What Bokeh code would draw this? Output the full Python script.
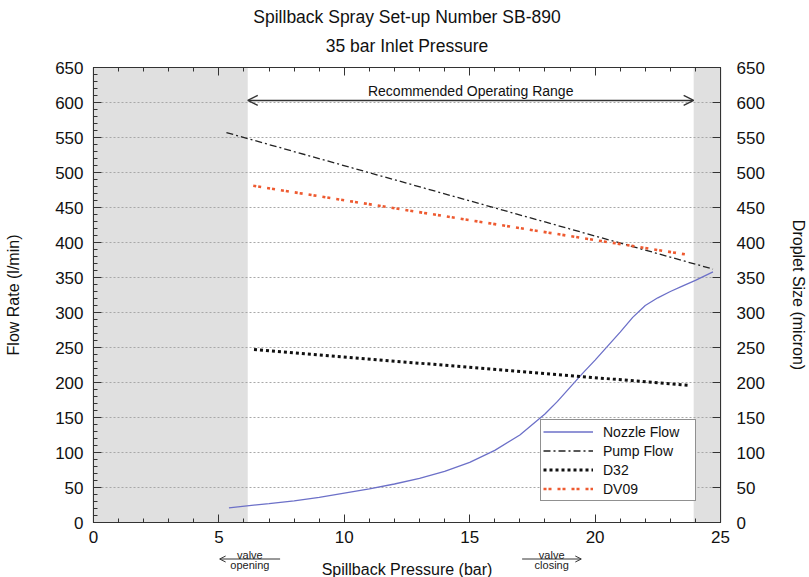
from bokeh.plotting import figure
from bokeh.layouts import column
from bokeh.models import (Range1d, LinearAxis, SingleIntervalTicker, BoxAnnotation,
                          Arrow, OpenHead, Label, Title)
from bokeh.embed import file_html
from bokeh.resources import INLINE

FONT = "Liberation Sans"

# ---- data ----
nozzle_x = [5.4, 7, 8, 9, 10, 11, 12, 13, 14, 15, 16, 17, 18, 18.5, 19, 19.5, 20,
            20.5, 21, 21.5, 22, 22.5, 23, 23.5, 24, 24.7]
nozzle_y = [21, 27, 31, 36, 42, 48, 55, 63, 73, 86, 103, 125, 155, 173, 193, 213, 232,
            252, 272, 293, 310, 321, 330, 338, 346, 358]
pump_x = [5.3, 24.7]
pump_y = [557, 362]
d32_x = [6.4, 23.7]
d32_y = [247, 196]
dv09_x = [6.37, 23.6]
dv09_y = [481, 383]
operating_range = [6.15, 23.93]
valve_opening_x = [7.44, 5.03]
valve_closing_x = [17.09, 19.45]

p = figure(width=809, height=550, x_range=Range1d(0, 25), y_range=Range1d(0, 650),
           output_backend="svg", toolbar_location=None, title=None,
           min_border_left=93, min_border_right=87, min_border_top=67, min_border_bottom=28)
p.background_fill_color = "white"
p.border_fill_color = "white"
p.outline_line_color = "#333333"
p.outline_line_width = 1.2

p.extra_y_ranges = {"drop": Range1d(0, 650)}

def style_axis(ax, minor=True):
    ax.axis_line_color = "#333333"
    ax.major_tick_line_color = "#333333"
    ax.minor_tick_line_color = "#333333" if minor else None
    ax.major_tick_in = 8
    ax.major_tick_out = 0
    ax.minor_tick_in = 4
    ax.minor_tick_out = 0
    ax.major_label_text_font = FONT
    ax.major_label_text_font_size = "17px"
    ax.major_label_text_color = "#111111"
    ax.axis_label_text_font = FONT
    ax.axis_label_text_font_size = "16px"
    ax.axis_label_text_font_style = "normal"
    ax.axis_label_text_color = "#111111"

xax = p.xaxis[0]
xax.ticker = SingleIntervalTicker(interval=5, num_minor_ticks=5)
style_axis(xax)
xax.major_label_standoff = 8

yax = p.yaxis[0]
yax.ticker = SingleIntervalTicker(interval=50, num_minor_ticks=5)
style_axis(yax)
yax.axis_label = "Flow Rate (l/min)"
yax.major_label_standoff = 10
yax.axis_label_standoff = 30

rax = LinearAxis(y_range_name="drop", axis_label="Droplet Size (micron)",
                 ticker=SingleIntervalTicker(interval=50, num_minor_ticks=0))
style_axis(rax, minor=False)
rax.major_label_standoff = 16
rax.axis_label_standoff = 22
p.add_layout(rax, "right")

# mirrored ticks on the top border (no labels)
tax = LinearAxis(ticker=SingleIntervalTicker(interval=5, num_minor_ticks=5))
style_axis(tax)
tax.major_label_text_font_size = "1px"
tax.major_label_text_color = None
tax.major_label_standoff = 0
p.add_layout(tax, "above")

# two-line title, each line centred
p.add_layout(Title(text="35 bar Inlet Pressure", align="center", text_font=FONT,
                   text_font_size="17.5px", text_font_style="normal",
                   text_color="#111111", standoff=23), "above")
p.add_layout(Title(text="Spillback Spray Set-up Number SB-890", align="center", text_font=FONT,
                   text_font_size="17.5px", text_font_style="normal",
                   text_color="#111111", standoff=-9), "above")

p.xgrid.visible = False
p.ygrid.ticker = SingleIntervalTicker(interval=50)
p.ygrid.grid_line_color = "#a8a8a8"
p.ygrid.grid_line_dash = "2 2"
p.ygrid.grid_line_width = 1

# shaded regions outside the recommended range
p.add_layout(BoxAnnotation(left=0, right=operating_range[0], fill_color="#e0e0e0",
                           fill_alpha=1, line_color=None, level="image"))
p.add_layout(BoxAnnotation(left=operating_range[1], right=25, fill_color="#e0e0e0",
                           fill_alpha=1, line_color=None, level="image"))

# series
p.line(nozzle_x, nozzle_y, line_color="#6c70c8", line_width=1.3, legend_label="Nozzle Flow")
p.line(pump_x, pump_y, line_color="#222222", line_width=1.3, line_dash="7 3 2 3",
       legend_label="Pump Flow")
p.line(d32_x, d32_y, y_range_name="drop", line_color="#111111", line_width=3,
       line_dash="3 3", legend_label="D32")
p.line(dv09_x, dv09_y, y_range_name="drop", line_color="#ee5a30", line_width=2.6,
       line_dash="3 2 3 6", legend_label="DV09")

# recommended operating range arrow
p.add_layout(Arrow(x_start=operating_range[0], x_end=operating_range[1], y_start=603, y_end=603,
                   start=OpenHead(size=10, line_color="#333333", line_width=1.3),
                   end=OpenHead(size=10, line_color="#333333", line_width=1.3),
                   line_color="#333333", line_width=1.5))
p.add_layout(Label(x=sum(operating_range) / 2, y=616, text="Recommended Operating Range",
                   text_align="center", text_baseline="middle", text_font=FONT,
                   text_font_size="14px", text_color="#111111"))

lg = p.legend[0]
lg.location = (447, 21)
lg.border_line_color = "#222222"
lg.border_line_width = 1.2
lg.background_fill_color = "white"
lg.background_fill_alpha = 1
lg.label_text_font = FONT
lg.label_text_font_size = "14px"
lg.label_text_color = "#111111"
lg.padding = 2
lg.spacing = 0
lg.margin = 0
lg.glyph_width = 50
lg.glyph_height = 19
lg.label_height = 19
lg.label_standoff = 10
lg.label_width = 90

# ---- strip under the x axis: valve hints and the axis title ----
# shares the x range; its y range runs in pixels from the strip top (550) to the page bottom (577)
s = figure(width=809, height=27, x_range=p.x_range, y_range=Range1d(577, 550),
           output_backend="svg", toolbar_location=None, title=None,
           x_axis_location=None, y_axis_location=None,
           min_border_left=93, min_border_right=87, min_border_top=0, min_border_bottom=0)
s.outline_line_color = None
s.grid.visible = False
s.background_fill_color = "white"
s.border_fill_color = "white"

for xs in (valve_opening_x, valve_closing_x):
    s.add_layout(Arrow(x_start=xs[0], x_end=xs[1], y_start=558.5, y_end=558.5,
                       end=OpenHead(size=6, line_color="#333333", line_width=1),
                       line_color="#333333", line_width=1))
for xs, word in ((valve_opening_x, "opening"), (valve_closing_x, "closing")):
    cx = (xs[0] + xs[1]) / 2
    s.add_layout(Label(x=cx, y=554, text="valve", text_align="center", text_baseline="middle",
                       text_font=FONT, text_font_size="11px", text_color="#222222"))
    s.add_layout(Label(x=cx, y=564.5, text=word, text_align="center", text_baseline="middle",
                       text_font=FONT, text_font_size="11px", text_color="#222222"))
s.add_layout(Label(x=12.5, y=568.5, text="Spillback Pressure (bar)", text_align="center",
                   text_baseline="middle", text_font=FONT, text_font_size="16px",
                   text_color="#111111"))

open("out.html", "w").write(file_html(column(p, s, spacing=0), INLINE))
